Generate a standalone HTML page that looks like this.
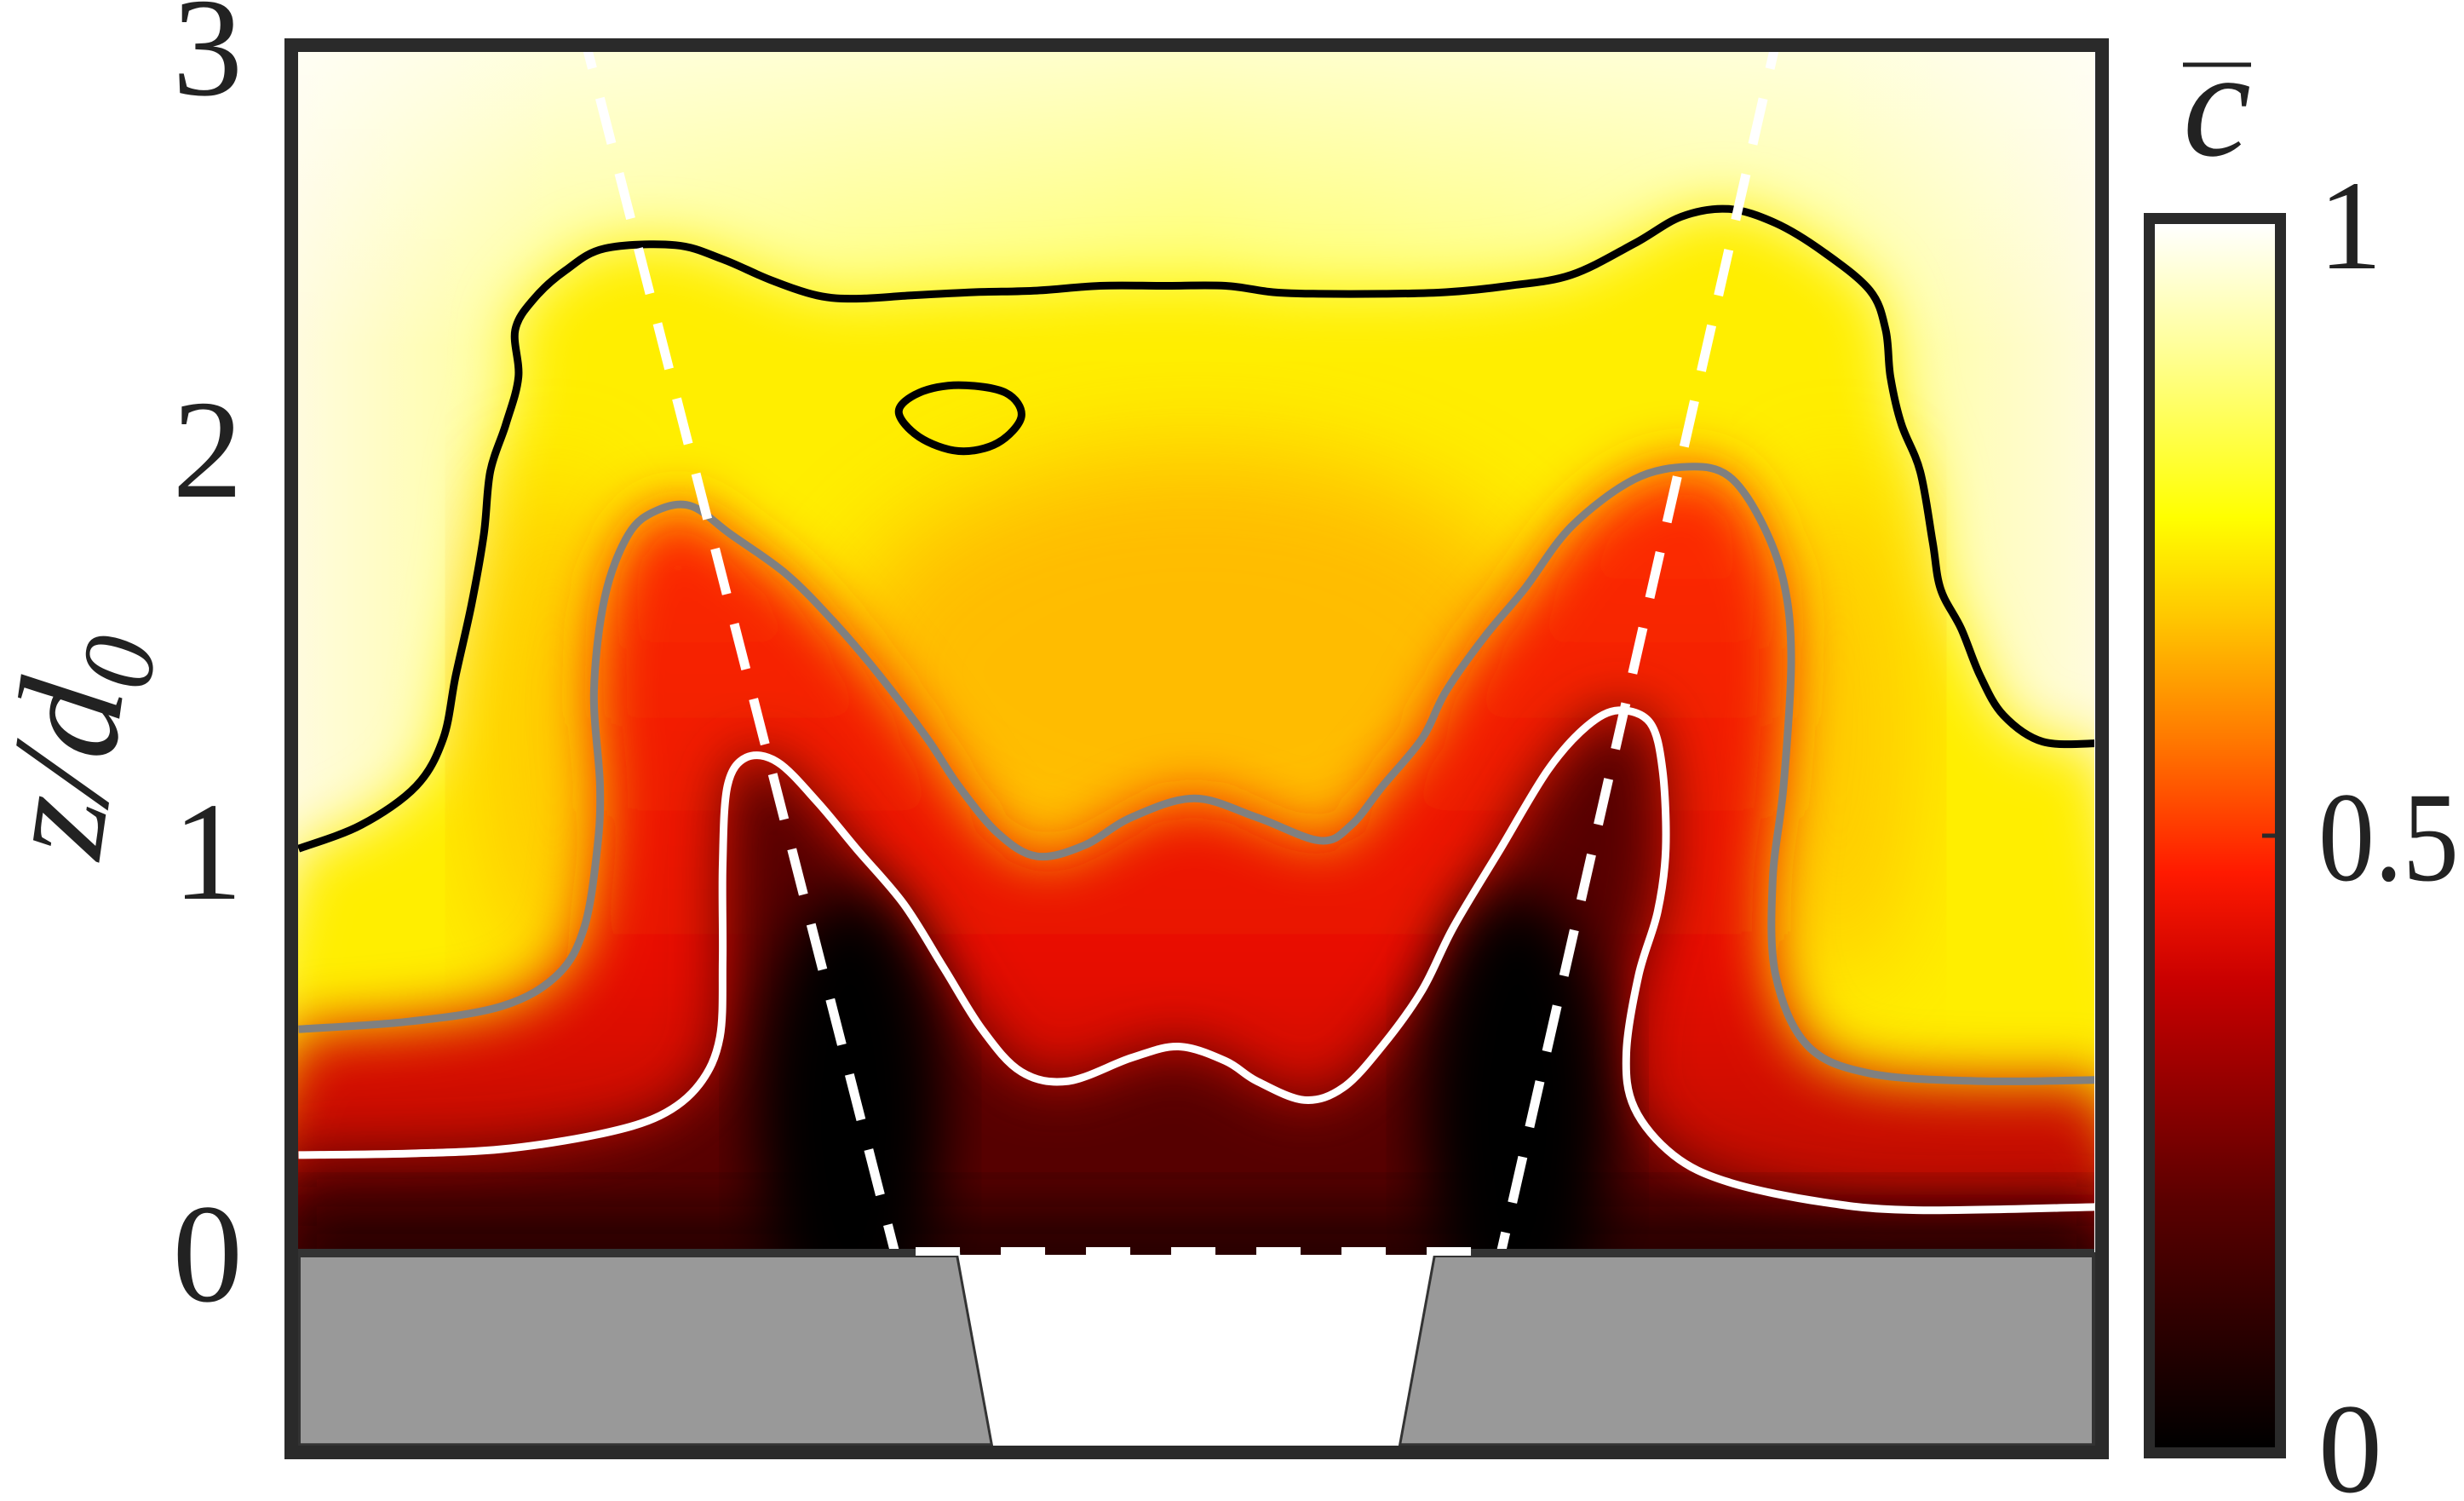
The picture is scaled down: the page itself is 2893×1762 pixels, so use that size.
<!DOCTYPE html>
<html><head><meta charset="utf-8"><style>
html,body{margin:0;padding:0;background:#fff;}
svg{display:block;font-family:"Liberation Serif",serif;}
</style></head><body>
<svg id="chart" width="2893" height="1762" viewBox="0 0 2893 1762" xmlns="http://www.w3.org/2000/svg">
<defs>
<clipPath id="plotClip"><rect x="350" y="61" width="2109" height="1412"/></clipPath>
<filter id="blur1" x="-20%" y="-20%" width="140%" height="140%"><feGaussianBlur stdDeviation="34"/></filter>
<filter id="blur2" x="-20%" y="-20%" width="140%" height="140%"><feGaussianBlur stdDeviation="60"/></filter>
<linearGradient id="bgH" x1="0" x2="1" y1="0" y2="0">
<stop offset="0" stop-color="#fffbe0"/><stop offset="0.15" stop-color="#ffff90"/><stop offset="0.5" stop-color="#ffff55"/><stop offset="0.85" stop-color="#ffff90"/><stop offset="1" stop-color="#fffbe0"/>
</linearGradient>
<linearGradient id="bgV" x1="0" x2="0" y1="0" y2="1">
<stop offset="0" stop-color="#ffffff" stop-opacity="0.7"/><stop offset="0.25" stop-color="#ffffff" stop-opacity="0"/>
</linearGradient>
<linearGradient id="redV" x1="0" x2="0" y1="0" y2="1">
<stop offset="0" stop-color="#ff3000"/><stop offset="0.55" stop-color="#e81000"/><stop offset="1" stop-color="#a00000"/>
</linearGradient>
<linearGradient id="cbGrad" x1="0" x2="0" y1="1" y2="0">
<stop offset="0" stop-color="#000000"/><stop offset="0.2" stop-color="#5a0000"/><stop offset="0.38" stop-color="#c80000"/><stop offset="0.47" stop-color="#ff1a00"/><stop offset="0.58" stop-color="#ff7a00"/><stop offset="0.68" stop-color="#ffc800"/><stop offset="0.76" stop-color="#ffff00"/><stop offset="0.9" stop-color="#ffff9a"/><stop offset="1" stop-color="#ffffff"/>
</linearGradient>
</defs>
<g id="plot" clip-path="url(#plotClip)"></g>
<g id="overlay"></g>
</svg>
<script>
// contour data in (x/d0, z/d0)
const blackX=[-2.232,-2.076,-1.939,-1.872,-1.841,-1.802,-1.771,-1.755,-1.716,-1.685,-1.693,-1.646,-1.567,-1.470,-1.294,-1.177,-1.059,-0.942,-0.844,-0.708,-0.551,-0.395,-0.238,-0.082,0.074,0.192,0.309,0.465,0.622,0.778,0.934,1.091,1.208,1.325,1.442,1.560,1.677,1.716,1.728,1.755,1.802,1.833,1.853,1.904,1.951,2.009,2.107,2.244];
const blackZ=[1.010,1.069,1.166,1.284,1.440,1.616,1.792,1.948,2.066,2.183,2.300,2.378,2.449,2.503,2.511,2.476,2.425,2.386,2.378,2.386,2.394,2.398,2.410,2.410,2.410,2.394,2.390,2.390,2.394,2.410,2.437,2.515,2.582,2.601,2.566,2.495,2.398,2.300,2.183,2.066,1.948,1.772,1.655,1.557,1.440,1.342,1.276,1.272];
const islandX=[-0.739,-0.688,-0.590,-0.473,-0.434,-0.493,-0.590,-0.688];
const islandZ=[2.097,2.144,2.163,2.144,2.085,2.019,1.999,2.034];
const grayX=[-2.232,-1.958,-1.724,-1.587,-1.521,-1.489,-1.482,-1.497,-1.470,-1.411,-1.341,-1.255,-1.157,-1.020,-0.903,-0.786,-0.668,-0.590,-0.493,-0.395,-0.278,-0.160,-0.004,0.152,0.309,0.387,0.465,0.563,0.622,0.719,0.817,0.934,1.091,1.227,1.325,1.403,1.462,1.481,1.462,1.435,1.442,1.521,1.677,1.951,2.244];
const grayZ=[0.561,0.580,0.619,0.697,0.815,1.010,1.166,1.401,1.636,1.792,1.851,1.862,1.792,1.694,1.577,1.440,1.284,1.166,1.049,0.991,1.018,1.088,1.135,1.088,1.030,1.069,1.166,1.284,1.401,1.538,1.655,1.811,1.929,1.960,1.937,1.831,1.675,1.479,1.166,0.932,0.697,0.521,0.451,0.432,0.435];
const whiteX=[-2.232,-1.958,-1.724,-1.489,-1.333,-1.235,-1.184,-1.177,-1.177,-1.165,-1.118,-1.040,-0.942,-0.844,-0.727,-0.629,-0.532,-0.434,-0.317,-0.160,-0.043,0.074,0.152,0.270,0.367,0.465,0.563,0.641,0.758,0.876,0.973,1.052,1.130,1.161,1.169,1.149,1.102,1.071,1.091,1.188,1.325,1.560,1.794,2.244];
const whiteZ=[0.248,0.252,0.263,0.299,0.346,0.424,0.541,0.736,0.971,1.166,1.237,1.225,1.127,1.010,0.873,0.717,0.561,0.455,0.432,0.490,0.518,0.482,0.432,0.385,0.416,0.521,0.658,0.815,1.010,1.206,1.315,1.354,1.323,1.206,1.010,0.854,0.697,0.502,0.365,0.248,0.181,0.131,0.111,0.119];
// jet axes (dashed lines): start and end points
const jetLeftX=[-1.53,-0.747], jetLeftZ=[3.0,0.0];
const jetRightX=[1.454,0.758], jetRightZ=[3.0,0.0];
// nozzle geometry
const nozzleTopX=[-0.591,0.591], nozzleBotX=[-0.504,0.504], nozzleZ=[0,-0.475];
const yTicks=[0,1,2,3], yTickLabels=["0","1","2","3"];
const cbTicks=[0,0.5,1], cbTickLabels=["0","0.5","1"];

const NS="http://www.w3.org/2000/svg";
const X=x=>1404+x*472, Y=z=>1473-z*472;
const cbY=v=>1699-v*(1699-263);
function mk(tag,attrs,parent){const e=document.createElementNS(NS,tag);for(const k in attrs)e.setAttribute(k,attrs[k]);parent.appendChild(e);return e;}
function smooth(xs,zs,closed){
  const p=xs.map((x,i)=>[X(x),Y(zs[i])]);const n=p.length;
  let d="M"+p[0][0].toFixed(1)+","+p[0][1].toFixed(1);
  const g=i=>closed?p[(i+n)%n]:p[Math.max(0,Math.min(n-1,i))];
  const last=closed?n:n-1;
  for(let i=0;i<last;i++){const p0=g(i-1),p1=g(i),p2=g(i+1),p3=g(i+2);
    const c1=[p1[0]+(p2[0]-p0[0])/6,p1[1]+(p2[1]-p0[1])/6],c2=[p2[0]-(p3[0]-p1[0])/6,p2[1]-(p3[1]-p1[1])/6];
    d+="C"+c1[0].toFixed(1)+","+c1[1].toFixed(1)+" "+c2[0].toFixed(1)+","+c2[1].toFixed(1)+" "+p2[0].toFixed(1)+","+p2[1].toFixed(1);}
  return closed?d+"Z":d;
}
function region(xs,zs){return smooth(xs,zs,false)+"L2600,1600L200,1600Z";}
const plot=document.getElementById('plot'), ov=document.getElementById('overlay'), svg=document.getElementById('chart');

let e;
e=mk('rect',{x:340,y:50,width:2130,height:1430,fill:'url(#bgH)'},plot);


mk('rect',{x:340,y:50,width:2130,height:1430,fill:'url(#bgV)'},plot);
e=mk('path',{d:region(blackX,blackZ),fill:'#ffee00',filter:'url(#blur1)'},plot);


mk('ellipse',{cx:X(0),cy:Y(1.45),rx:430,ry:260,fill:'#ffb000',opacity:0.8,filter:'url(#blur2)'},plot);
mk('ellipse',{cx:X(-1.6),cy:Y(1.3),rx:90,ry:300,fill:'#ffb000',opacity:0.6,filter:'url(#blur2)'},plot);
mk('ellipse',{cx:X(1.6),cy:Y(1.3),rx:90,ry:300,fill:'#ffb000',opacity:0.6,filter:'url(#blur2)'},plot);
e=mk('path',{d:region(grayX,grayZ),fill:'url(#redV)',filter:'url(#blur1)'},plot);


e=mk('path',{d:region(whiteX,whiteZ),fill:'#560000',filter:'url(#blur1)'},plot);


mk('rect',{x:340,y:Y(0.12),width:2130,height:200,fill:'#1a0000',opacity:0.8,filter:'url(#blur1)'},plot);
mk('ellipse',{cx:X(-0.86),cy:Y(0.35),rx:110,ry:260,fill:'#000',filter:'url(#blur1)'},plot);
mk('ellipse',{cx:X(0.8),cy:Y(0.35),rx:110,ry:260,fill:'#000',filter:'url(#blur1)'},plot);

// contour lines
e=mk('path',{d:smooth(blackX,blackZ,false),fill:'none',stroke:'#000',"stroke-width":9},plot);


e=mk('path',{d:smooth(islandX,islandZ,true),fill:'none',stroke:'#000',"stroke-width":9},plot);


e=mk('path',{d:smooth(grayX,grayZ,false),fill:'none',stroke:'#808080',"stroke-width":9},plot);


e=mk('path',{d:smooth(whiteX,whiteZ,false),fill:'none',stroke:'#fff',"stroke-width":9},plot);



// jet axes
e=mk('line',{x1:X(jetLeftX[0]),y1:Y(jetLeftZ[0])-30,x2:X(jetLeftX[1]),y2:Y(jetLeftZ[1]),stroke:'#fff',"stroke-width":11,"stroke-dasharray":"55 36"},plot);


e=mk('line',{x1:X(jetRightX[0]),y1:Y(jetRightZ[0])-30,x2:X(jetRightX[1]),y2:Y(jetRightZ[1]),stroke:'#fff',"stroke-width":11,"stroke-dasharray":"55 36"},plot);



// base / nozzle
const yb=Y(nozzleZ[1]), y0=Y(nozzleZ[0]);
e=mk('path',{d:`M350,${y0}L${X(nozzleTopX[0])},${y0}L${X(nozzleBotX[0])},${yb}L350,${yb}Z`,fill:'#999',stroke:'#333',"stroke-width":6},ov);


e=mk('path',{d:`M2459,${y0}L${X(nozzleTopX[1])},${y0}L${X(nozzleBotX[1])},${yb}L2459,${yb}Z`,fill:'#999',stroke:'#333',"stroke-width":6},ov);


e=mk('path',{d:`M${X(nozzleTopX[0])},${y0}L${X(nozzleTopX[1])},${y0}L${X(nozzleBotX[1])},${yb}L${X(nozzleBotX[0])},${yb}Z`,fill:'#fff'},ov);


mk('rect',{x:350,y:y0-7,width:X(nozzleTopX[0])-350,height:9,fill:'#333'},ov);
mk('rect',{x:X(nozzleTopX[1]),y:y0-7,width:2459-X(nozzleTopX[1]),height:9,fill:'#333'},ov);
e=mk('line',{x1:X(nozzleTopX[0])-50,y1:y0-4,x2:X(nozzleTopX[1])+50,y2:y0-4,stroke:'#fff',"stroke-width":10,"stroke-dasharray":"52 48"},ov);



// frame
e=mk('rect',{x:342,y:53,width:2126,height:1652,fill:'none',stroke:'#2a2a2a',"stroke-width":16},ov);



// y ticks
yTicks.forEach((t,i)=>{
  const el=mk('text',{x:285,y:Y(t)+54,"text-anchor":"end","font-size":165,fill:'#222'},svg);
  el.textContent=yTickLabels[i];
  
  
});
e=mk('text',{x:0,y:0,transform:'translate(135,880) rotate(-82)',"text-anchor":"middle","font-size":175,"font-style":"italic",fill:'#222'},svg);
e.innerHTML='z/d<tspan font-size="120" dy="30">0</tspan>';



// colorbar
e=mk('rect',{x:2530,y:263,width:141,height:1436,fill:'url(#cbGrad)'},svg);


mk('rect',{x:2523.5,y:256.5,width:154,height:1449,fill:'none',stroke:'#2a2a2a',"stroke-width":13},svg);
cbTicks.forEach((t,i)=>{
  if(t>0&&t<1) mk('line',{x1:2656,y1:cbY(t),x2:2671,y2:cbY(t),stroke:'#2a2a2a',"stroke-width":5},svg);
  const attrs={x:2722,y:cbY(t)+52,"font-size":150,fill:'#222'};
  if(cbTickLabels[i].length>1){attrs.textLength=165;attrs.lengthAdjust='spacingAndGlyphs';}
  const el=mk('text',attrs,svg);
  el.textContent=cbTickLabels[i];
  
  
});
e=mk('text',{x:2603,y:182,"text-anchor":"middle","font-size":180,"font-style":"italic",fill:'#222'},svg);
e.textContent='c';


mk('line',{x1:2563,y1:76,x2:2643,y2:76,stroke:'#222',"stroke-width":5},svg);
</script>
</body></html>
